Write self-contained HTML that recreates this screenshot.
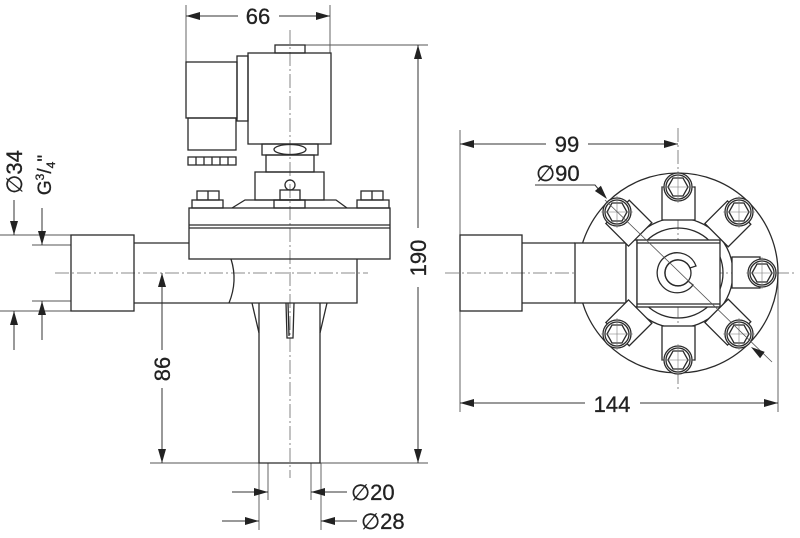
<!DOCTYPE html>
<html><head><meta charset="utf-8"><style>html,body{margin:0;padding:0;background:#fff}svg{display:block}</style></head>
<body>
<svg width="800" height="538" viewBox="0 0 800 538" xmlns="http://www.w3.org/2000/svg" font-family="Liberation Sans, sans-serif">
<g fill="none" stroke="#2a2a2a" stroke-width="1.3">
<g stroke="#555" stroke-width="0.9">
<line x1="186" y1="5" x2="186" y2="62"/>
<line x1="330" y1="5" x2="330" y2="53"/>
<line x1="305" y1="45" x2="428" y2="45"/>
<line x1="150" y1="463" x2="428" y2="463"/>
<line x1="0" y1="235" x2="71" y2="235"/>
<line x1="0" y1="311" x2="71" y2="311"/>
<line x1="32" y1="245" x2="71" y2="245"/>
<line x1="32" y1="301" x2="71" y2="301"/>
<line x1="268" y1="463" x2="268" y2="500"/>
<line x1="311" y1="463" x2="311" y2="500"/>
<line x1="259" y1="463" x2="259" y2="530"/>
<line x1="321" y1="463" x2="321" y2="530"/>
<line x1="460" y1="130" x2="460" y2="412"/>
<line x1="778" y1="273" x2="778" y2="412"/>
</g>
<g stroke="#333" stroke-width="1">
<line x1="186" y1="16" x2="238" y2="16"/>
<line x1="279" y1="16" x2="330" y2="16"/>
<line x1="418" y1="45" x2="418" y2="228"/>
<line x1="418" y1="287" x2="418" y2="463"/>
<line x1="162" y1="273" x2="162" y2="350"/>
<line x1="162" y1="388" x2="162" y2="463"/>
<line x1="14" y1="200" x2="14" y2="235"/>
<line x1="14" y1="311" x2="14" y2="350"/>
<line x1="42" y1="208" x2="42" y2="245"/>
<line x1="42" y1="301" x2="42" y2="340"/>
<line x1="232" y1="492" x2="268" y2="492"/>
<line x1="311" y1="492" x2="347" y2="492"/>
<line x1="222" y1="521" x2="259" y2="521"/>
<line x1="321" y1="521" x2="357" y2="521"/>
<line x1="460" y1="144" x2="546" y2="144"/>
<line x1="588" y1="144" x2="678" y2="144"/>
<line x1="460" y1="403" x2="585" y2="403"/>
<line x1="640" y1="403" x2="778" y2="403"/>
<polyline points="535,185 595,185 605,197"/>
</g>
<g stroke="#666" stroke-width="0.8" stroke-dasharray="14,3,2,3">
<line x1="290" y1="30" x2="290" y2="478"/>
<line x1="55" y1="273" x2="368" y2="273"/>
<line x1="445" y1="273" x2="795" y2="273"/>
<line x1="678" y1="128" x2="678" y2="392"/>
</g>
<rect x="275" y="45" width="30" height="8"/>
<rect x="248" y="53" width="83" height="91"/>
<rect x="237" y="56" width="11" height="65"/>
<rect x="186" y="62" width="51" height="56"/>
<rect x="188" y="118" width="48" height="32"/>
<rect x="188" y="157" width="48" height="8"/>
<path d="M196,157v8M204,157v8M212,157v8M220,157v8M228,157v8"/>
<rect x="262" y="144" width="56" height="11"/>
<ellipse cx="290" cy="149.5" rx="16" ry="5"/>
<rect x="266" y="155" width="48" height="17"/>
<rect x="255" y="172" width="69" height="28"/>
<circle cx="290" cy="185" r="5"/>
<rect x="280" y="190" width="20" height="10"/>
<path d="M232,208 L245,200 L336,200 L347,208"/>
<rect x="274" y="200" width="31" height="8"/>
<rect x="197" y="191" width="22" height="9"/><line x1="208" y1="191" x2="208" y2="200"/>
<rect x="192" y="200" width="31" height="8"/>
<rect x="361" y="191" width="22" height="9"/><line x1="372" y1="191" x2="372" y2="200"/>
<rect x="357" y="200" width="32" height="8"/>
<rect x="189" y="208" width="201" height="51"/>
<line x1="189" y1="225" x2="390" y2="225"/><line x1="189" y1="228" x2="390" y2="228"/>
<path d="M357,259 V303 H134 M134,243 H189"/>
<path d="M231,259 Q238,281 229,303"/>
<rect x="71" y="235" width="63" height="76"/>
<path d="M259,303 V463 H320 V303"/>
<path d="M252,303 L259,333 M327,303 L320,333"/>
<path d="M286,303 L287,338 H293 L294,303 M288,303 L289,336"/>
<circle cx="678" cy="273" r="100"/>
<circle cx="678" cy="273" r="55"/>
<circle cx="678" cy="273" r="45"/>
<rect x="460" y="235" width="62" height="76"/>
<path d="M522,243 H575 M522,303 H575"/>
<rect x="575" y="243" width="51" height="60" fill="#fff"/>
<rect x="626" y="240" width="11" height="67" fill="#fff"/>
<rect x="637" y="240" width="83" height="67" fill="#fff"/>
<line x1="637" y1="243" x2="720" y2="243"/><line x1="637" y1="304" x2="720" y2="304"/>
<rect x="732" y="257" width="28" height="31" fill="#fff"/>
<rect x="662" y="187" width="33" height="33" fill="#fff"/>
<rect x="662" y="326" width="33" height="34" fill="#fff"/>
<g transform="rotate(45 678 273)"><rect x="662" y="187" width="33" height="32" fill="#fff"/><rect x="662" y="327" width="33" height="32" fill="#fff"/></g>
<g transform="rotate(-45 678 273)"><rect x="662" y="187" width="33" height="32" fill="#fff"/><rect x="662" y="327" width="33" height="32" fill="#fff"/></g>
<path d="M693,285 A20,20 0 1 1 696,266 L690,268 A13,13 0 1 0 688,281 Z"/>
<circle cx="678" cy="273" r="13"/>
<g fill="#fff">
<g transform="translate(678,187)"><circle r="14"/><circle r="12"/><path d="M-10,0 L-5,-9 L5,-9 L10,0 L5,9 L-5,9 Z"/><path d="M-16,0H16M0,-16V16" stroke="#777" stroke-width="0.6"/></g>
<g transform="translate(678,360)"><circle r="14"/><circle r="12"/><path d="M-10,0 L-5,-9 L5,-9 L10,0 L5,9 L-5,9 Z"/><path d="M-16,0H16M0,-16V16" stroke="#777" stroke-width="0.6"/></g>
<g transform="translate(617,212)"><circle r="14"/><circle r="12"/><path d="M-10,0 L-5,-9 L5,-9 L10,0 L5,9 L-5,9 Z"/><path d="M-16,0H16M0,-16V16" stroke="#777" stroke-width="0.6"/></g>
<g transform="translate(739,212)"><circle r="14"/><circle r="12"/><path d="M-10,0 L-5,-9 L5,-9 L10,0 L5,9 L-5,9 Z"/><path d="M-16,0H16M0,-16V16" stroke="#777" stroke-width="0.6"/></g>
<g transform="translate(617,334)"><circle r="14"/><circle r="12"/><path d="M-10,0 L-5,-9 L5,-9 L10,0 L5,9 L-5,9 Z"/><path d="M-16,0H16M0,-16V16" stroke="#777" stroke-width="0.6"/></g>
<g transform="translate(739,334)"><circle r="14"/><circle r="12"/><path d="M-10,0 L-5,-9 L5,-9 L10,0 L5,9 L-5,9 Z"/><path d="M-16,0H16M0,-16V16" stroke="#777" stroke-width="0.6"/></g>
<g transform="translate(762,273)"><circle r="14"/><circle r="12"/><path d="M-10,0 L-5,-9 L5,-9 L10,0 L5,9 L-5,9 Z"/><path d="M-16,0H16M0,-16V16" stroke="#777" stroke-width="0.6"/></g>
</g>
<line x1="605" y1="200" x2="772" y2="362" stroke="#555" stroke-width="0.8"/>
</g>
<g fill="#222" stroke="none">
<polygon points="186,16 200,12 200,20"/>
<polygon points="330,16 316,12 316,20"/>
<polygon points="418,45 414,59 422,59"/>
<polygon points="418,463 414,449 422,449"/>
<polygon points="162,273 158,287 166,287"/>
<polygon points="162,463 158,449 166,449"/>
<polygon points="14,235 10,221 18,221"/>
<polygon points="14,311 10,325 18,325"/>
<polygon points="42,245 38,231 46,231"/>
<polygon points="42,301 38,315 46,315"/>
<polygon points="268,492 254,488 254,496"/>
<polygon points="311,492 325,488 325,496"/>
<polygon points="259,521 245,517 245,525"/>
<polygon points="321,521 335,517 335,525"/>
<polygon points="460,144 474,140 474,148"/>
<polygon points="678,144 664,140 664,148"/>
<polygon points="460,403 474,399 474,407"/>
<polygon points="778,403 764,399 764,407"/>
<polygon points="607,199 594.9,191 600.9,185.8"/>
<polygon points="751,347 764.7,351.9 760.1,358.3"/>
</g>
<g fill="#222" font-size="22" stroke="#222" stroke-width="0.3">
<text x="258" y="24" text-anchor="middle">66</text>
<text x="567" y="152" text-anchor="middle">99</text>
<text x="612" y="412" text-anchor="middle">144</text>
<text x="536" y="181">∅90</text>
<text x="351" y="500">∅20</text>
<text x="361" y="529">∅28</text>
<text transform="translate(426,258) rotate(-90)" text-anchor="middle">190</text>
<text transform="translate(170,369) rotate(-90)" text-anchor="middle">86</text>
<text transform="translate(22,172) rotate(-90)" text-anchor="middle">∅34</text>
<text transform="translate(51,175) rotate(-90)" text-anchor="middle" font-size="19">G<tspan font-size="12" dy="-7">3</tspan><tspan dy="7">/</tspan><tspan font-size="12" dy="4">4</tspan><tspan dy="-4">"</tspan></text>
</g>
</svg>
</body></html>
